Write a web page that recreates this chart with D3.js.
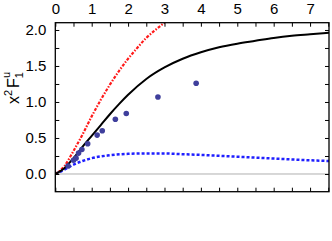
<!DOCTYPE html>
<html>
<head>
<meta charset="utf-8">
<script src="https://cdn.jsdelivr.net/npm/d3@7"></script>
<style>
	body { margin: 0; background: #fff; }
	text { font-family: "Liberation Sans", Arial, sans-serif; }
</style>
</head>
<body>
<script>
	// данные
	const pointsX = [0.35, 0.50, 0.57, 0.64, 0.73, 0.89, 1.15, 1.29, 1.65, 1.95, 2.82, 3.87];
	const pointsY = [0.11, 0.19, 0.22, 0.29, 0.34, 0.42, 0.54, 0.60, 0.76, 0.84, 1.07, 1.26];

	const blackX = [0, 0.25, 0.5, 0.75, 1, 1.25, 1.5, 1.75, 2, 2.5, 3, 3.5, 4, 4.5, 5, 5.5, 6, 6.5, 7, 7.52];
	const blackY = [0, 0.08, 0.22, 0.38, 0.53, 0.68, 0.83, 0.97, 1.10, 1.32, 1.48, 1.60, 1.69, 1.76, 1.81, 1.85, 1.89, 1.92, 1.94, 1.96];

	const redX = [0, 0.25, 0.5, 0.75, 1, 1.25, 1.5, 1.75, 2, 2.25, 2.5, 2.75, 3];
	const redY = [0, 0.11, 0.32, 0.55, 0.80, 1.03, 1.24, 1.43, 1.60, 1.75, 1.89, 2.00, 2.10];

	const blueX = [0, 0.25, 0.5, 0.75, 1, 1.5, 2, 2.5, 3, 3.5, 4, 5, 6, 7, 7.52];
	const blueY = [0, 0.06, 0.13, 0.18, 0.22, 0.26, 0.28, 0.285, 0.285, 0.275, 0.265, 0.24, 0.215, 0.19, 0.18];

	const xTickLabels = [0, 1, 2, 3, 4, 5, 6, 7];
	const yTickLabels = [0, 0.5, 1, 1.5, 2];

	const w = 332,
		h = 241;

	const xScale = d3.scaleLinear().domain([0, 7.52]).range([55.3, 329]),
		yScale = d3.scaleLinear().domain([-0.246, 2.101]).range([191.7, 22.7]);

	const svg = d3.select("body")
		.append("svg")
		.attr("width", w)
		.attr("height", h);

	const defs = svg.append("defs");
	defs.append("clipPath")
		.attr("id", "clip")
		.append("rect")
		.attr("x", xScale.range()[0])
		.attr("y", yScale.range()[1])
		.attr("width", xScale.range()[1] - xScale.range()[0])
		.attr("height", yScale.range()[0] - yScale.range()[1]);

	const plot = svg.append("g").attr("clip-path", "url(#clip)");

	// серая линия нуля
	plot.append("line")
		.attr("x1", xScale.range()[0])
		.attr("x2", xScale.range()[1])
		.attr("y1", yScale(0))
		.attr("y2", yScale(0))
		.attr("stroke", "#b0b0b0")
		.attr("stroke-width", 1);

	const line = d3.line()
		.x(d => xScale(d[0]))
		.y(d => yScale(d[1]))
		.curve(d3.curveMonotoneX);

	const zip = (xs, ys) => xs.map((x, i) => [x, ys[i]]);

	plot.append("path")
		.datum(zip(blueX, blueY))
		.attr("d", line)
		.attr("fill", "none")
		.attr("stroke", "#1f1fff")
		.attr("stroke-width", 2.5)
		.attr("stroke-dasharray", "3,2");

	plot.append("path")
		.datum(zip(redX, redY))
		.attr("d", line)
		.attr("fill", "none")
		.attr("stroke", "#ff1a1a")
		.attr("stroke-width", 2.2)
		.attr("stroke-dasharray", "3,1.5,1.5,1.5");

	plot.append("path")
		.datum(zip(blackX, blackY))
		.attr("d", line)
		.attr("fill", "none")
		.attr("stroke", "#000")
		.attr("stroke-width", 2);

	plot.selectAll("circle")
		.data(zip(pointsX, pointsY))
		.enter()
		.append("circle")
		.attr("cx", d => xScale(d[0]))
		.attr("cy", d => yScale(d[1]))
		.attr("r", 2.8)
		.attr("fill", "#3f3f9c");

	// оси: тики внутрь
	const tickSize = 4;
	const xTicks = d3.range(0, 7.51, 0.5),
		yTicks = d3.range(0, 2.01, 0.25);

	const axisStyle = g => {
		g.select(".domain").remove();
		g.selectAll(".tick line").attr("stroke", "#000").attr("stroke-width", 1);
		g.selectAll("text")
			.attr("font-family", "Liberation Sans, Arial, sans-serif")
			.attr("font-size", "15px")
			.attr("fill", "#000");
	};

	svg.append("g")
		.attr("transform", `translate(0,${yScale.range()[1]})`)
		.call(d3.axisTop(xScale).tickValues(xTicks).tickSizeInner(-tickSize).tickSizeOuter(0)
			.tickFormat(d => xTickLabels.includes(d) ? d3.format("d")(d) : "").tickPadding(9))
		.call(axisStyle);

	svg.append("g")
		.attr("transform", `translate(0,${yScale.range()[0]})`)
		.call(d3.axisBottom(xScale).tickValues(xTicks).tickSizeInner(-tickSize).tickSizeOuter(0).tickFormat(""))
		.call(axisStyle);

	svg.append("g")
		.attr("transform", `translate(${xScale.range()[0]},0)`)
		.call(d3.axisLeft(yScale).tickValues(yTicks).tickSizeInner(-tickSize).tickSizeOuter(0)
			.tickFormat(d => yTickLabels.includes(d) ? d3.format(".1f")(d) : "").tickPadding(9))
		.call(axisStyle);

	svg.append("g")
		.attr("transform", `translate(${xScale.range()[1]},0)`)
		.call(d3.axisRight(yScale).tickValues(yTicks).tickSizeInner(-tickSize).tickSizeOuter(0).tickFormat(""))
		.call(axisStyle);

	// рамка
	svg.append("rect")
		.attr("x", xScale.range()[0])
		.attr("y", yScale.range()[1])
		.attr("width", xScale.range()[1] - xScale.range()[0])
		.attr("height", yScale.range()[0] - yScale.range()[1])
		.attr("fill", "none")
		.attr("stroke", "#000")
		.attr("stroke-width", 1.3);

	// подпись оси y
	const ylab = svg.append("text")
		.attr("transform", "translate(19,88) rotate(-90)")
		.attr("text-anchor", "middle")
		.attr("font-size", "16px")
		.attr("fill", "#000");
	ylab.append("tspan").text("x");
	ylab.append("tspan").attr("font-size", "11px").attr("dy", "-7").text("2");
	ylab.append("tspan").attr("dx", "2").attr("dy", "7").text("F");
	ylab.append("tspan").attr("font-size", "11px").attr("dy", "4").text("1");
	ylab.append("tspan").attr("font-size", "11px").attr("dx", "-6").attr("dy", "-13").text("u");
</script>
</body>
</html>
